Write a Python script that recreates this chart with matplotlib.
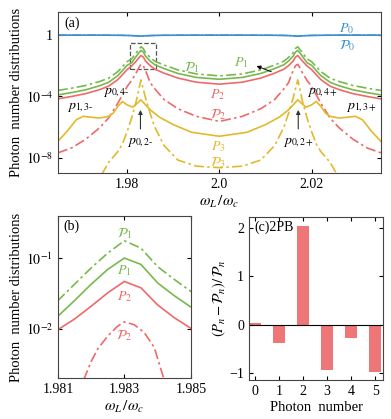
import numpy as np
import matplotlib
matplotlib.use("Agg")
import matplotlib.pyplot as plt
from matplotlib.patches import Rectangle

plt.rcParams["font.family"] = ["Liberation Serif", "DejaVu Serif"]
plt.rcParams["mathtext.fontset"] = "stix"
plt.rcParams["font.size"] = 10

# colours
blue = "#3d8fd1"
green = "#78b84e"
red = "#ee6a6a"
yellow = "#e3b92c"
bar_col = "#ef7676"

# ---------------- panel (a) data (log10 of the distributions) ----------------
xa = [1.965, 1.968, 1.971, 1.974, 1.976, 1.978, 1.979, 1.980, 1.981, 1.982,
      1.9825, 1.983, 1.9835, 1.984, 1.985, 1.986, 1.988, 1.991, 1.995, 2.000,
      2.005, 2.009, 2.012, 2.014, 2.015, 2.016, 2.0165, 2.017, 2.0175, 2.018,
      2.019, 2.020, 2.021, 2.022, 2.024, 2.026, 2.029, 2.032, 2.035]
P0_log = [0.0, 0.0, 0.0, 0.0, -0.005, -0.01, -0.015, -0.02, -0.03, -0.045,
          -0.055, -0.065, -0.055, -0.045, -0.03, -0.02, -0.01, -0.005, 0.0, 0.0,
          0.0, -0.005, -0.01, -0.02, -0.03, -0.045, -0.055, -0.065, -0.055, -0.045,
          -0.03, -0.02, -0.015, -0.01, -0.005, 0.0, 0.0, 0.0, 0.0]
cP1_log = [-3.61, -3.46, -3.29, -3.03, -2.81, -2.38, -2.06, -1.73, -1.55, -1.15,
           -0.95, -0.76, -0.87, -1.15, -1.45, -1.70, -1.95, -2.27, -2.53, -2.66,
           -2.53, -2.27, -1.95, -1.70, -1.45, -1.15, -0.87, -0.76, -0.95, -1.15,
           -1.55, -1.73, -2.06, -2.38, -2.81, -3.03, -3.29, -3.46, -3.61]
P1_log = [-3.90, -3.75, -3.57, -3.31, -3.08, -2.64, -2.31, -1.97, -1.80, -1.38,
          -1.18, -1.00, -1.10, -1.37, -1.69, -1.93, -2.18, -2.50, -2.76, -2.88,
          -2.76, -2.50, -2.18, -1.93, -1.69, -1.37, -1.10, -1.00, -1.18, -1.38,
          -1.80, -1.97, -2.31, -2.64, -3.08, -3.31, -3.57, -3.75, -3.90]
P2_log = [-4.16, -4.00, -3.82, -3.56, -3.33, -2.90, -2.58, -2.25, -2.01, -1.69,
          -1.50, -1.33, -1.43, -1.69, -1.99, -2.22, -2.48, -2.80, -3.07, -3.20,
          -3.07, -2.80, -2.48, -2.22, -1.99, -1.69, -1.43, -1.33, -1.50, -1.69,
          -2.01, -2.25, -2.58, -2.90, -3.33, -3.56, -3.82, -4.00, -4.16]
cP2_log = [-7.68, -7.36, -6.80, -6.06, -5.41, -4.44, -3.90, -3.36, -2.95, -2.45,
           -2.15, -1.90, -2.00, -2.30, -3.10, -3.50, -4.20, -4.80, -5.30, -5.63,
           -5.30, -4.80, -4.20, -3.50, -3.10, -2.30, -2.00, -1.90, -2.15, -2.45,
           -2.95, -3.36, -3.90, -4.44, -5.41, -6.06, -6.80, -7.36, -7.68]

x3 = [1.965, 1.967, 1.969, 1.9705, 1.972, 1.974, 1.976, 1.977, 1.978, 1.979,
      1.980, 1.9812, 1.982, 1.983, 1.984, 1.985, 1.987, 1.990, 1.994, 2.000,
      2.006, 2.010, 2.013, 2.015, 2.016, 2.017, 2.018, 2.0188, 2.020, 2.021,
      2.022, 2.023, 2.024, 2.026, 2.028, 2.0295, 2.031, 2.033, 2.035]
P3_log = [-6.93, -6.28, -5.52, -5.30, -5.35, -5.41, -5.30, -5.09, -4.65, -4.33,
          -4.55, -4.70, -4.50, -4.22, -4.55, -4.87, -5.35, -5.84, -6.34, -6.60,
          -6.34, -5.84, -5.35, -4.87, -4.55, -4.22, -4.50, -4.70, -4.55, -4.33,
          -4.65, -5.09, -5.30, -5.41, -5.35, -5.30, -5.52, -6.28, -6.93]

x3c = [1.9745, 1.976, 1.978, 1.979, 1.980, 1.981, 1.982, 1.9825, 1.983, 1.9835,
       1.984, 1.985, 1.986, 1.988, 1.991, 1.995, 2.000, 2.005, 2.009, 2.012,
       2.014, 2.015, 2.016, 2.0165, 2.017, 2.0175, 2.018, 2.019, 2.020, 2.021,
       2.022, 2.024, 2.0255]
cP3_log = [-9.10, -8.30, -7.60, -7.10, -6.30, -5.40, -4.30, -3.60, -2.92, -3.50,
           -4.10, -5.10, -6.00, -7.20, -8.15, -8.55, -8.65, -8.55, -8.15, -7.20,
           -6.00, -5.10, -4.10, -3.50, -2.92, -3.60, -4.30, -5.40, -6.30, -7.10,
           -7.60, -8.30, -9.10]

# ---------------- panel (b) data ----------------
xb = [1.9805, 1.981, 1.9815, 1.982, 1.9825, 1.983, 1.9835, 1.984, 1.9845, 1.985, 1.9855]
cP1b_log = [-1.75, -1.60, -1.37, -1.14, -0.93, -0.756, -0.86, -1.12, -1.30, -1.47, -1.60]
P1b_log = [-1.98, -1.82, -1.60, -1.37, -1.16, -1.00, -1.09, -1.35, -1.53, -1.69, -1.82]
P2b_log = [-2.17, -2.01, -1.86, -1.68, -1.49, -1.33, -1.42, -1.66, -1.84, -1.99, -2.12]
xb2 = [1.9815, 1.9818, 1.982, 1.9822, 1.9825, 1.9828, 1.983, 1.9833, 1.9836, 1.9839, 1.9842, 1.9845]
cP2b_log = [-2.95, -2.69, -2.46, -2.28, -2.10, -1.96, -1.90, -1.94, -2.05, -2.26, -2.72, -3.10]

# ---------------- panel (c) data ----------------
n_photon = [0, 1, 2, 3, 4, 5]
rel_diff = [0.03, -0.38, 2.05, -0.95, -0.27, -0.98]


def lin(v):
    return 10 ** np.array(v)


fig = plt.figure(figsize=(3.91, 4.19), dpi=100)

# ---------- (a) ----------
ax = fig.add_axes([0.148, 0.587, 0.826, 0.384])
ax.plot(xa, lin(P0_log), color=blue, lw=1.2)
ax.plot(xa, lin(P0_log), color=blue, lw=1.0, ls="-.")
ax.plot(xa, lin(cP1_log), color=green, lw=1.2, ls=(0, (6, 2, 1.5, 2)))
ax.plot(xa, lin(P1_log), color=green, lw=1.2)
ax.plot(xa, lin(P2_log), color=red, lw=1.2)
ax.plot(xa, lin(cP2_log), color=red, lw=1.2, ls=(0, (6, 2, 1.5, 2)))
ax.plot(x3, lin(P3_log), color=yellow, lw=1.2)
ax.plot(x3c, lin(cP3_log), color=yellow, lw=1.2, ls=(0, (6, 2, 1.5, 2)))
ax.set_yscale("log")
ax.set_xlim(1.965, 2.035)
ax.set_ylim(1e-9, 10 ** 1.5)
ax.set_xticks([1.98, 2.0, 2.02])
ax.set_xticklabels(["1.98", "2.0", "2.02"])
ax.set_yticks([1, 1e-4, 1e-8])
ax.set_yticklabels(["1", r"$10^{-4}$", r"$10^{-8}$"])
ax.minorticks_off()
ax.tick_params(direction="in", top=True, right=True, labelsize=10, length=3)
ax.set_xlabel(r"$\omega_L\,/\omega_c$", fontsize=11, labelpad=2)
ax.set_ylabel("Photon  number distributions", fontsize=10.5, labelpad=2)
ax.text(0.02, 0.93, "(a)", transform=ax.transAxes, fontsize=10, va="center")

ax.text(2.0276, 10 ** 0.45, r"$P_0$", color=blue, fontsize=10, ha="center", va="center")
ax.text(2.0276, 10 ** -0.71, r"$\mathcal{P}_0$", color=blue, fontsize=10, ha="center", va="center")
ax.text(1.994, 10 ** -2.15, r"$\mathcal{P}_1$", color=green, fontsize=10, ha="center", va="center")
ax.text(2.0048, 10 ** -1.82, r"$P_1$", color=green, fontsize=10, ha="center", va="center")
ax.annotate("", xy=(2.0075, 10 ** -1.95), xytext=(2.0118, 10 ** -2.45),
            arrowprops=dict(arrowstyle="-|>", color="black", lw=0.7, mutation_scale=6))
ax.text(1.9997, 10 ** -3.9, r"$P_2$", color=red, fontsize=10, ha="center", va="center")
ax.text(1.9997, 10 ** -5.2, r"$\mathcal{P}_2$", color=red, fontsize=10, ha="center", va="center")
ax.text(1.9997, 10 ** -7.27, r"$P_3$", color=yellow, fontsize=10, ha="center", va="center")
ax.text(1.9997, 10 ** -8.3, r"$\mathcal{P}_3$", color=yellow, fontsize=10, ha="center", va="center")

ax.text(1.9698, 10 ** -4.74, r"$p_{1,3\text{-}}$", fontsize=10, ha="center", va="center")
ax.text(1.9777, 10 ** -3.77, r"$p_{0,4\text{-}}$", fontsize=10, ha="center", va="center")
ax.text(1.9828, 10 ** -7.0, r"$p_{0,2\text{-}}$", fontsize=10, ha="center", va="center")
ax.text(2.0172, 10 ** -7.0, r"$p_{0,2+}$", fontsize=10, ha="center", va="center")
ax.text(2.0224, 10 ** -3.77, r"$p_{0,4+}$", fontsize=10, ha="center", va="center")
ax.text(2.0308, 10 ** -4.74, r"$p_{1,3+}$", fontsize=10, ha="center", va="center")
for xp in (1.9829, 2.0171):
    ax.annotate("", xy=(xp, 10 ** -4.7), xytext=(xp, 10 ** -6.3),
                arrowprops=dict(arrowstyle="-|>", color="#333333", lw=0.8, mutation_scale=6))

ax.add_patch(Rectangle((1.9806, 10 ** -2.2), 0.0056, 10 ** -0.52 - 10 ** -2.2,
                       fill=False, ls="--", lw=0.9, ec="#555555"))

# ---------- (b) ----------
bx = fig.add_axes([0.148, 0.098, 0.340, 0.386])
bx.plot(xb, lin(cP1b_log), color=green, lw=1.2, ls=(0, (6, 2, 1.5, 2)))
bx.plot(xb, lin(P1b_log), color=green, lw=1.2)
bx.plot(xb, lin(P2b_log), color=red, lw=1.2)
bx.plot(xb2, lin(cP2b_log), color=red, lw=1.2, ls=(0, (6, 2, 1.5, 2)))
bx.set_yscale("log")
bx.set_xlim(1.981, 1.985)
bx.set_ylim(10 ** -2.69, 10 ** -0.41)
bx.set_xticks([1.981, 1.983, 1.985])
bx.set_xticklabels(["1.981", "1.983", "1.985"])
bx.set_yticks([1e-1, 1e-2])
bx.set_yticklabels([r"$10^{-1}$", r"$10^{-2}$"])
bx.minorticks_off()
bx.tick_params(direction="in", top=True, right=True, labelsize=10, length=3)
bx.set_xlabel(r"$\omega_L\,/\omega_c$", fontsize=11, labelpad=2)
bx.set_ylabel("Photon  number distributions", fontsize=10.5, labelpad=2)
bx.text(0.04, 0.94, "(b)", transform=bx.transAxes, fontsize=10, va="center")
bx.text(1.983, 10 ** -0.65, r"$\mathcal{P}_1$", color=green, fontsize=10, ha="center", va="center")
bx.text(1.983, 10 ** -1.17, r"$P_1$", color=green, fontsize=10, ha="center", va="center")
bx.text(1.983, 10 ** -1.55, r"$P_2$", color=red, fontsize=10, ha="center", va="center")
bx.text(1.983, 10 ** -2.1, r"$\mathcal{P}_2$", color=red, fontsize=10, ha="center", va="center")

# ---------- (c) ----------
cx = fig.add_axes([0.637, 0.093, 0.343, 0.389])
cx.bar(n_photon, rel_diff, width=0.48, color=bar_col)
cx.axhline(0, color="black", lw=0.8)
cx.set_xlim(-0.25, 5.33)
cx.set_ylim(-1.15, 2.23)
cx.set_xticks(n_photon)
cx.set_yticks([-1, 0, 1, 2])
cx.tick_params(direction="in", top=True, right=True, labelsize=10, length=3)
cx.set_xlabel("Photon  number", fontsize=10.5, labelpad=2)
cx.set_ylabel(r"$(P_n-\mathcal{P}_n)/\,\mathcal{P}_n$", fontsize=10.5, labelpad=1)
cx.text(0.04, 0.94, "(c)2PB", transform=cx.transAxes, fontsize=10, va="center")

for a in (ax, bx, cx):
    for s in a.spines.values():
        s.set_color("#444444")
        s.set_linewidth(0.8)

fig.savefig("out.png", dpi=100)
